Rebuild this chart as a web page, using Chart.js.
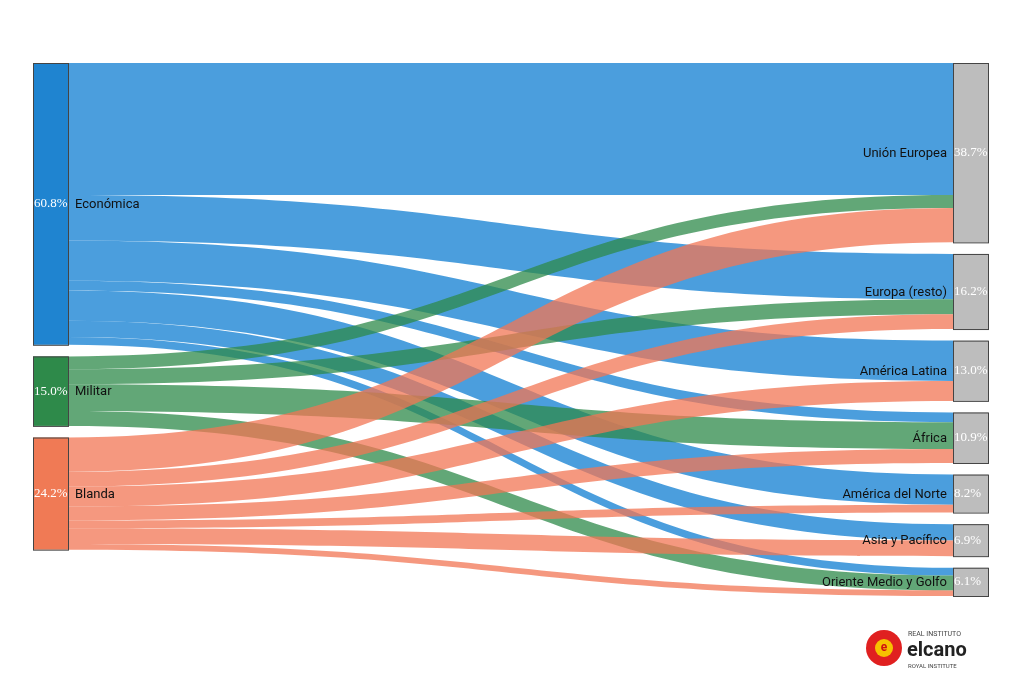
<!DOCTYPE html>
<html><head><meta charset="utf-8">
<script src="https://cdn.jsdelivr.net/npm/chart.js@4"></script>
<style>body{margin:0;background:#fff}canvas{display:block}</style>
</head><body>
<canvas id="c" width="1024" height="683"></canvas>
<script>
const sources = ['Económica','Militar','Blanda'];
const sourceValues = [60.8,15.0,24.2];
const targets = ['Unión Europea','Europa (resto)','América Latina','África','América del Norte','Asia y Pacífico','Oriente Medio y Golfo'];
const targetValues = [38.7,16.2,13.0,10.9,8.2,6.9,6.1];
const flowEconomica = [28.5,9.8,8.7,2.1,6.5,3.5,1.7];
const flowMilitar   = [2.8,3.2,0,5.8,0,0,3.2];
const flowBlanda    = [7.4,3.2,4.3,3.0,1.7,3.4,1.2];
const flows = [flowEconomica, flowMilitar, flowBlanda];

const nodeColors = ['#1f84d0','#2e8a4a','#f07a55'];
const flowColors = ['rgba(30,134,212,0.8)','rgba(46,138,74,0.75)','rgba(242,118,84,0.75)'];
const GAP = 2.5, NODE_W = 35/955;

const sankey = {
  id:'sankey',
  afterDatasetsDraw(chart){
    const {ctx, scales:{x,y}} = chart;
    const fmt = v => v.toFixed(1)+'%';
    // node positions
    let sy=[], acc=0;
    sourceValues.forEach(v=>{sy.push(acc); acc+=v+GAP;});
    let ty=[]; acc=0;
    targetValues.forEach(v=>{ty.push(acc); acc+=v+GAP;});
    const xl0=x.getPixelForValue(0), xl1=x.getPixelForValue(NODE_W);
    const xr0=x.getPixelForValue(1-NODE_W), xr1=x.getPixelForValue(1);
    // flows
    const tOff = targetValues.map(()=>0);
    // compute target offsets in source order
    const tStart = flows.map(()=>[]);
    flows.forEach((f,s)=>f.forEach((v,t)=>{tStart[s][t]=ty[t]+tOff[t]; tOff[t]+=v;}));
    flows.forEach((f,s)=>{
      let so=sy[s];
      f.forEach((v,t)=>{
        if(!v) return;
        const a0=y.getPixelForValue(so), a1=y.getPixelForValue(so+v);
        const b0=y.getPixelForValue(tStart[s][t]), b1=y.getPixelForValue(tStart[s][t]+v);
        const mx=(xl1+xr0)/2;
        ctx.beginPath();
        ctx.moveTo(xl1,a0);
        ctx.bezierCurveTo(mx,a0,mx,b0,xr0,b0);
        ctx.lineTo(xr0,b1);
        ctx.bezierCurveTo(mx,b1,mx,a1,xl1,a1);
        ctx.closePath();
        ctx.fillStyle=flowColors[s]; ctx.fill();
        so+=v;
      });
    });
    // nodes
    ctx.lineWidth=1; ctx.strokeStyle='#444';
    sourceValues.forEach((v,i)=>{
      const t=y.getPixelForValue(sy[i]), b=y.getPixelForValue(sy[i]+v);
      ctx.fillStyle=nodeColors[i]; ctx.fillRect(xl0,t,xl1-xl0,b-t); ctx.strokeRect(xl0+.5,t+.5,xl1-xl0,b-t);
      const m=(t+b)/2;
      ctx.font='13px "Liberation Serif"'; ctx.fillStyle='#fff'; ctx.textAlign='left'; ctx.textBaseline='middle';
      ctx.fillText(fmt(v),xl0+1,m);
      ctx.font='13px Roboto'; ctx.fillStyle='#111'; ctx.fillText(sources[i],xl1+7,m+1);
    });
    targetValues.forEach((v,i)=>{
      const t=y.getPixelForValue(ty[i]), b=y.getPixelForValue(ty[i]+v);
      ctx.fillStyle='#bdbdbd'; ctx.fillRect(xr0,t,xr1-xr0,b-t); ctx.strokeRect(xr0+.5,t+.5,xr1-xr0,b-t);
      const m=(t+b)/2;
      ctx.font='13px "Liberation Serif"'; ctx.fillStyle='#fff'; ctx.textAlign='left'; ctx.textBaseline='middle';
      ctx.fillText(fmt(v),xr0+1,m);
      ctx.font='13px Roboto'; ctx.fillStyle='#111'; ctx.textAlign='right'; ctx.fillText(targets[i],xr0-6,m+1);
    });
    // logo
    ctx.save();
    ctx.fillStyle='#e02020'; ctx.beginPath(); ctx.arc(884,648,18,0,Math.PI*2); ctx.fill();
    ctx.fillStyle='#f6c200'; ctx.beginPath(); ctx.arc(884,648,9,0,Math.PI*2); ctx.fill();
    ctx.fillStyle='#d01010'; ctx.font='bold 12px Roboto'; ctx.textAlign='center'; ctx.fillText('e',884,648);
    ctx.textAlign='left'; ctx.fillStyle='#444'; ctx.font='7px Roboto'; ctx.fillText('REAL INSTITUTO',908,634);
    ctx.fillStyle='#222'; ctx.font='bold 20px Roboto'; ctx.fillText('elcano',907,651);
    ctx.fillStyle='#444'; ctx.font='6px Roboto'; ctx.fillText('ROYAL INSTITUTE',908,666);
    ctx.restore();
  }
};
const total = targetValues.reduce((a,b)=>a+b,0)+GAP*(targetValues.length-1);
new Chart(document.getElementById('c'),{
  type:'scatter',
  data:{datasets:[{data:[]}]},
  options:{
    responsive:false, animation:false,
    layout:{padding:{left:33,right:36,top:63,bottom:87}},
    plugins:{legend:{display:false},tooltip:{enabled:false}},
    scales:{
      x:{type:'linear',min:0,max:1,display:false},
      y:{type:'linear',min:0,max:total,reverse:true,display:false}
    }
  },
  plugins:[sankey]
});
</script>
</body></html>
